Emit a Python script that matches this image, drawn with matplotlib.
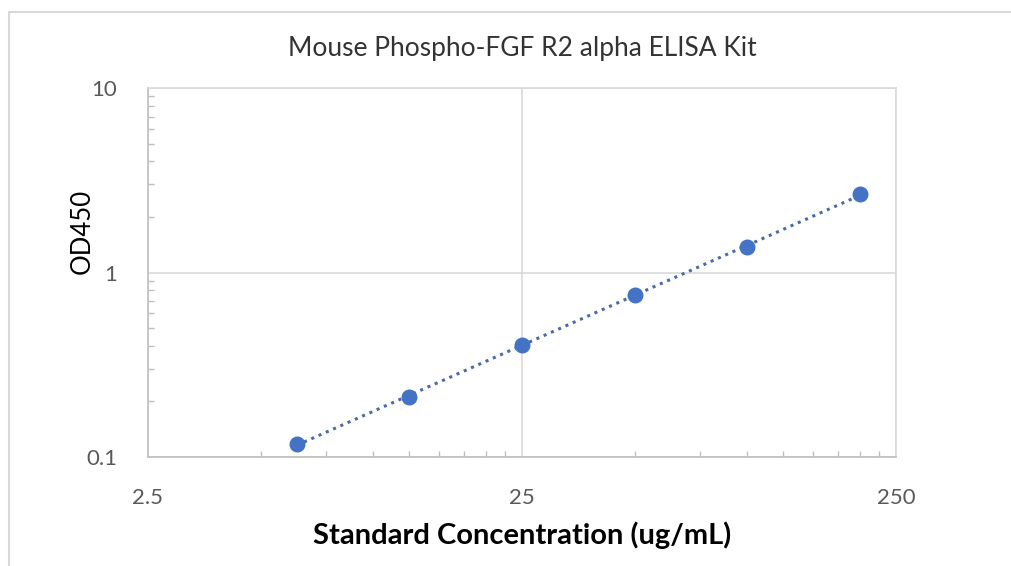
import numpy as np
import matplotlib.pyplot as plt
from matplotlib.ticker import FixedLocator, NullFormatter
from matplotlib.patches import Rectangle

# данные стандартной кривой
conc = [6.25, 12.5, 25, 50, 100, 200]
od = [0.118, 0.211, 0.405, 0.755, 1.375, 2.66]

x_ticks = [2.5, 25, 250]
x_labels = ["2.5", "25", "250"]
y_ticks = [0.1, 1, 10]
y_labels = ["0.1", "1", "10"]

plt.rcParams['font.family'] = ['Lato', 'DejaVu Sans']

fig = plt.figure(figsize=(10.12, 5.66), dpi=100)
ax = fig.add_axes([0.1462, 0.1926, 0.7392, 0.6519])

# рамка вокруг диаграммы
fig.patches.append(Rectangle((9 / 1012, -0.1), 1.2, 1 - 12 / 566 + 0.1,
                             transform=fig.transFigure, fill=False,
                             edgecolor='#d9d9d9', linewidth=1.5))

# степенной тренд
lx = np.log10(conc)
ly = np.log10(od)
k, b0 = np.polyfit(lx, ly, 1)
xt = np.array([conc[0], conc[-1]])
yt = 10 ** (k * np.log10(xt) + b0)
ax.plot(xt, yt, linestyle=(0, (1, 1.6)), color='#4a6aa8', linewidth=2.2, zorder=3)

ax.plot(conc, od, 'o', color='#4472c4', markersize=10.5, zorder=4)

ax.set_xscale('log')
ax.set_yscale('log')
ax.set_xlim(2.5, 250)
ax.set_ylim(0.1, 10)

ax.set_xticks(x_ticks)
ax.set_xticklabels(x_labels)
ax.set_yticks(y_ticks)
ax.set_yticklabels(y_labels)
ax.xaxis.set_minor_locator(FixedLocator([2.5 * m for m in range(2, 10)] + [25 * m for m in range(2, 10)]))
ax.yaxis.set_minor_locator(FixedLocator([0.1 * m for m in range(2, 10)] + [m for m in range(2, 10)]))
ax.xaxis.set_minor_formatter(NullFormatter())
ax.yaxis.set_minor_formatter(NullFormatter())

ax.tick_params(which='major', length=0, labelsize=16, labelcolor='#595959')
ax.tick_params(axis='x', which='major', pad=22)
ax.tick_params(axis='y', which='major', pad=22)
ax.tick_params(which='minor', direction='in', length=4, color='#bfbfbf', width=1)

ax.grid(True, which='major', color='#d9d9d9', linewidth=1.2)
for s in ax.spines.values():
    s.set_color('#d9d9d9')
    s.set_linewidth(1.2)
ax.spines['left'].set_color('#bfbfbf')
ax.spines['bottom'].set_color('#bfbfbf')

ax.set_title("Mouse Phospho-FGF R2 alpha ELISA Kit", fontsize=19, color='#333333', pad=23)
ax.set_xlabel("Standard Concentration (ug/mL)", fontsize=21, fontweight='bold', labelpad=10)
ax.set_ylabel("OD450", fontsize=18.5)
ax.yaxis.set_label_coords(-0.0705, 0.61)

fig.savefig("out.png", dpi=100)
